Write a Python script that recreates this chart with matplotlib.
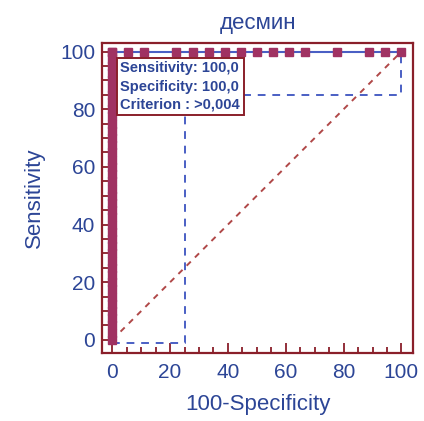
import matplotlib
matplotlib.use("Agg")
import matplotlib.pyplot as plt
from matplotlib.ticker import MultipleLocator

# ROC curve points (100-Specificity, Sensitivity)
pos_sens = [0, 2.5, 5, 7.5, 10, 12.5, 15, 17.5, 20, 22.5, 25, 27.5, 30, 32.5, 35, 37.5,
            40, 42.5, 45, 47.5, 50, 52.5, 55, 57.5, 60, 62.5, 65, 67.5, 70, 72.5, 75,
            77.5, 80, 82.5, 85, 87.5, 90, 92.5, 95, 97.5, 100]
top_fpr = [0, 5.56, 11.1, 22.2, 27.8, 33.3, 38.9, 44.4, 50, 55.6, 61.1, 66.7,
           77.8, 88.9, 94.4, 100]

roc_x = [0] * len(pos_sens) + top_fpr
roc_y = pos_sens + [100] * len(top_fpr)

# confidence bounds
ci_x = [0, 25, 25, 100, 100]
ci_y = [-1, -1, 85, 85, 100]

diag = [0, 100]

blue_txt = "#2c4596"
frame = "#8a1f2a"
marker_c = "#a03262"
line_blue = "#4a5fc4"

plt.rcParams['font.family'] = ['Liberation Sans', 'DejaVu Sans']

fig = plt.figure(figsize=(4.24, 4.21), dpi=100)
ax = fig.add_axes([0.241, 0.162, 0.733, 0.736])

ax.plot(diag, diag, color="#b04848", lw=1.4, dashes=(3, 3))
ax.plot(ci_x, ci_y, color=line_blue, lw=1.4, dashes=(4, 3.5))
ax.plot([0, 0, 100], [0, 100, 100], color=line_blue, lw=1.5)
ax.plot(roc_x, roc_y, ls="none", marker="s", ms=6.3, color=marker_c, mec=marker_c)

ax.set_xlim(-3.5, 104)
ax.set_ylim(-4.5, 103)
ax.xaxis.set_major_locator(MultipleLocator(20))
ax.xaxis.set_minor_locator(MultipleLocator(5))
ax.yaxis.set_major_locator(MultipleLocator(20))
ax.yaxis.set_minor_locator(MultipleLocator(5))

for s in ax.spines.values():
    s.set_color(frame)
    s.set_linewidth(1.6)
ax.tick_params(which="both", direction="in", color=frame, width=1.3,
               labelcolor=blue_txt, labelsize=15)
ax.tick_params(which="major", length=7)
ax.tick_params(which="minor", length=4.5)
ax.tick_params(axis="x", pad=7)
ax.tick_params(axis="y", pad=5)

ax.set_title("десмин", color=blue_txt, fontsize=16, pad=10)
ax.set_xlabel("100-Specificity", color=blue_txt, fontsize=16, labelpad=9)
ax.set_ylabel("Sensitivity", color=blue_txt, fontsize=16, labelpad=11)

ax.text(2.8, 96.6, "Sensitivity: 100,0\nSpecificity: 100,0\nCriterion : >0,004",
        color=blue_txt, fontsize=10.5, fontweight="bold", va="top", ha="left",
        linespacing=1.38, zorder=5,
        bbox=dict(boxstyle="square,pad=0.25", fc="white", ec=frame, lw=1.4))

fig.savefig("out.png", dpi=100)
